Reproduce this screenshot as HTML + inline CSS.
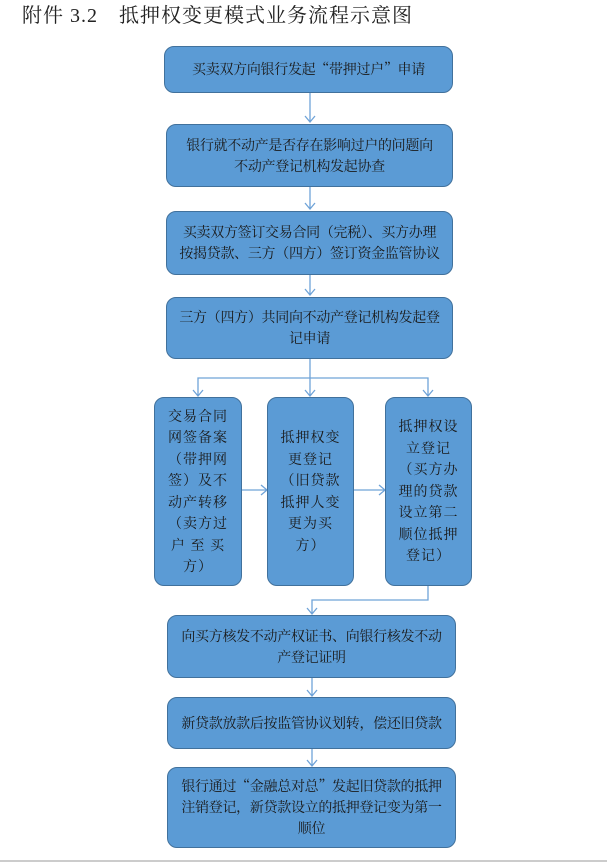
<!DOCTYPE html>
<html><head><meta charset="utf-8"><style>
body{margin:0;width:607px;height:863px;background:#fff;position:relative;overflow:hidden;font-family:"Noto Serif CJK SC","Liberation Serif",serif;}
.t{position:absolute;left:22px;top:-1px;font-size:20px;color:#222;letter-spacing:1px;white-space:nowrap;font-family:"Liberation Serif","Noto Serif CJK SC",serif;}
.b{position:absolute;box-sizing:border-box;background:#5b9bd5;border:1.5px solid #41719c;border-radius:10px;color:#1a1a1a;font-size:14px;line-height:21px;display:flex;align-items:center;justify-content:center;text-align:center;padding:0 4px;white-space:nowrap;letter-spacing:-0.3px}
.s{padding:0 12px;letter-spacing:1px;line-height:21.5px;}
svg{position:absolute;left:0;top:0}
</style></head><body>
<div class="t">附件 3.2　抵押权变更模式业务流程示意图</div>
<svg width="607" height="863"><g stroke="#6fa3d8" stroke-width="1.3" fill="none">
<path d="M310 92V122M305 116l5 6 5-6"/>
<path d="M310 186V209M305 203l5 6 5-6"/>
<path d="M310 274V295M305 289l5 6 5-6"/>
<path d="M310 358V378M198 396V378H428V396M310 378V396M193 390l5 6 5-6M305 390l5 6 5-6M423 390l5 6 5-6"/>
<path d="M241 490H267M261 485l6 5-6 5M353 490H385M379 485l6 5-6 5"/>
<path d="M428 585V600H312V614M307 608l5 6 5-6"/>
<path d="M312 678V696M307 690l5 6 5-6"/>
<path d="M312 748V766M307 760l5 6 5-6"/>
</g><line x1="0" y1="861" x2="607" y2="861" stroke="#ccc" stroke-width="2"/></svg>
<div class="b" style="left:164px;top:46px;width:289px;height:47px">买卖双方向银行发起“带押过户”申请</div>
<div class="b" style="left:166px;top:124px;width:287px;height:63px">银行就不动产是否存在影响过户的问题向<br>不动产登记机构发起协查</div>
<div class="b" style="left:166px;top:211px;width:287px;height:64px">买卖双方签订交易合同（完税）、买方办理<br>按揭贷款、三方（四方）签订资金监管协议</div>
<div class="b" style="left:166px;top:297px;width:287px;height:62px">三方（四方）共同向不动产登记机构发起登<br>记申请</div>
<div class="b s" style="left:154px;top:397px;width:88px;height:189px;white-space:normal">交易合同网签备案（带押网签）及不动产转移（卖方过户&nbsp;至&nbsp;买方）</div>
<div class="b s" style="left:267px;top:397px;width:87px;height:189px;white-space:normal">抵押权变更登记（旧贷款抵押人变更为买方）</div>
<div class="b s" style="left:385px;top:397px;width:87px;height:189px;white-space:normal">抵押权设立登记（买方办理的贷款设立第二顺位抵押登记）</div>
<div class="b" style="left:167px;top:615px;width:289px;height:63px">向买方核发不动产权证书、向银行核发不动<br>产登记证明</div>
<div class="b" style="left:167px;top:697px;width:289px;height:52px">新贷款放款后按监管协议划转，偿还旧贷款</div>
<div class="b" style="left:167px;top:767px;width:289px;height:81px">银行通过“金融总对总”发起旧贷款的抵押<br>注销登记，新贷款设立的抵押登记变为第一<br>顺位</div>
</body></html>
